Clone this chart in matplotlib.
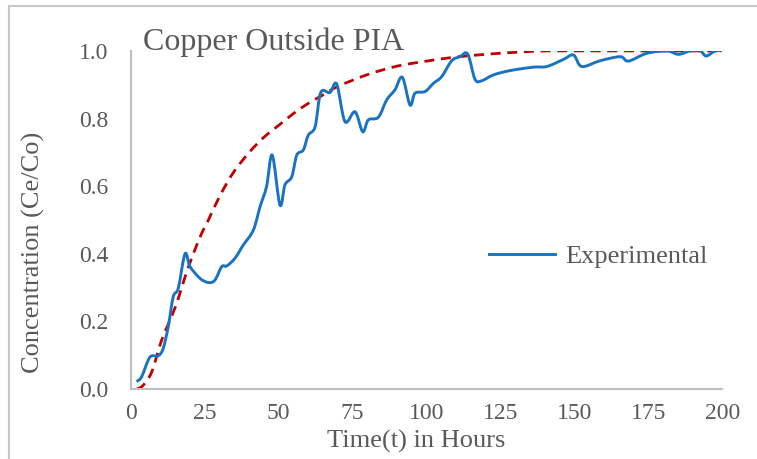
import matplotlib.pyplot as plt
from matplotlib.lines import Line2D
from matplotlib.path import Path
from matplotlib.patches import PathPatch

t_exp = [1.9, 3.6, 6.4, 9.2, 10.9, 12.6, 14.3, 16.0, 18.3, 20.0, 23.4, 26.2, 28.4,
         30.7, 32.4, 35.2, 38.0, 41.4, 43.7, 45.9, 47.8, 50.4, 52.1, 54.4, 56.1,
         58.3, 60.0, 62.3, 64.2, 67.3, 69.6, 72.4, 75.8, 78.4, 80.3, 83.7, 86.5,
         89.3, 91.8, 94.4, 96.1, 99.5, 102.3, 105.1, 108.5, 111.3, 113.9, 116.4,
         118.7, 122.6, 128.3, 136.1, 140.7, 146.3, 149.7, 152.5, 158.7, 165.5,
         168.3, 174.5, 181.3, 185.2, 189.2, 192.6, 194.6, 197.6, 199.9]
c_exp = [0.022, 0.036, 0.094, 0.098, 0.12, 0.184, 0.273, 0.298, 0.40, 0.362, 0.327,
         0.315, 0.322, 0.362, 0.364, 0.387, 0.426, 0.47, 0.54, 0.60, 0.692, 0.544,
         0.604, 0.628, 0.692, 0.707, 0.751, 0.776, 0.877, 0.877, 0.902, 0.791, 0.82,
         0.761, 0.796, 0.804, 0.855, 0.885, 0.922, 0.84, 0.875, 0.88, 0.904, 0.924,
         0.971, 0.983, 0.991, 0.916, 0.912, 0.929, 0.942, 0.952, 0.954, 0.975, 0.988,
         0.954, 0.971, 0.983, 0.970, 0.993, 1.0, 0.99, 1.0, 1.0, 0.985, 1.0, 1.0]

# model curve (red dashed)
t_mod = [2, 4, 7, 10.4, 14.9, 19.4, 23.4, 26.2, 30, 34.6, 40, 45, 50, 55, 60, 65,
         70, 80, 90, 100, 110, 120, 130, 140, 160, 180, 200]
c_mod = [0.0, 0.01, 0.05, 0.145, 0.24, 0.36, 0.45, 0.5, 0.57, 0.64, 0.70, 0.745,
         0.78, 0.815, 0.845, 0.87, 0.895, 0.93, 0.955, 0.97, 0.982, 0.99, 0.996,
         1.0, 1.0, 1.0, 1.0]

xticks = [0, 25, 50, 75, 100, 125, 150, 175, 200]
yticks = [0.0, 0.2, 0.4, 0.6, 0.8, 1.0]

grey = '#595959'
blue = '#1a72c2'
plt.rcParams['font.family'] = ['Liberation Serif', 'DejaVu Serif']


def smooth_path(xs, ys):
    # Excel-style smoothed line: cubic bezier through every point
    verts = [(xs[0], ys[0])]
    codes = [Path.MOVETO]
    n = len(xs)
    for i in range(n - 1):
        x0, y0 = xs[max(i - 1, 0)], ys[max(i - 1, 0)]
        x1, y1 = xs[i], ys[i]
        x2, y2 = xs[i + 1], ys[i + 1]
        x3, y3 = xs[min(i + 2, n - 1)], ys[min(i + 2, n - 1)]
        verts += [(x1 + (x2 - x0) / 6, y1 + (y2 - y0) / 6),
                  (x2 - (x3 - x1) / 6, y2 - (y3 - y1) / 6),
                  (x2, y2)]
        codes += [Path.CURVE4] * 3
    return Path(verts, codes)


fig = plt.figure(figsize=(7.57, 4.59), dpi=100)
ax = fig.add_axes([0.173, 0.1525, 0.781, 0.7365])

ax.add_patch(PathPatch(smooth_path(t_mod, c_mod), fill=False, edgecolor='#c00000',
                       lw=2.0, linestyle=(0, (3.6, 2.4)), capstyle='butt'))
ax.add_patch(PathPatch(smooth_path(t_exp, c_exp), fill=False, edgecolor=blue,
                       lw=2.1, joinstyle='round'))

ax.set_xlim(0, 200)
ax.set_ylim(0, 1.0)
ax.set_xticks(xticks)
ax.set_yticks(yticks)
ax.set_yticklabels(['%.1f' % v for v in yticks])
ax.tick_params(length=0, labelsize=17, labelcolor=grey)
ax.tick_params(axis='y', pad=16)
ax.tick_params(axis='x', pad=10)

for s in ['top', 'right']:
    ax.spines[s].set_visible(False)
for s in ['left', 'bottom']:
    ax.spines[s].set_color('#bfbfbf')
    ax.spines[s].set_linewidth(1.5)

handle = Line2D([], [], color=blue, lw=2.1)
ax.legend([handle], ['Experimental'], loc='center left',
          bbox_to_anchor=(0.565, 0.393), frameon=False,
          fontsize=19, labelcolor=grey, handlelength=2.5, handletextpad=0.4)

fig.text(143 / 757, 1 - 42 / 459, 'Copper Outside PIA', fontsize=23, color=grey,
         ha='left', va='center')
fig.text(33 / 757, 1 - 252 / 459, 'Concentration (Ce/Co)', fontsize=19, color=grey,
         rotation=90, ha='center', va='center')
fig.text(416 / 757, 1 - 441 / 459, 'Time(t) in Hours', fontsize=19, color=grey,
         ha='center', va='center')

# outer chart border (only top and left show in the crop)
fig.add_artist(Line2D([9 / 757, 9 / 757], [0, 1 - 6 / 459], color='#c8c8c8', lw=1.5))
fig.add_artist(Line2D([9 / 757, 1], [1 - 6 / 459, 1 - 6 / 459], color='#c8c8c8', lw=1.5))

fig.savefig('out.png', dpi=100)
